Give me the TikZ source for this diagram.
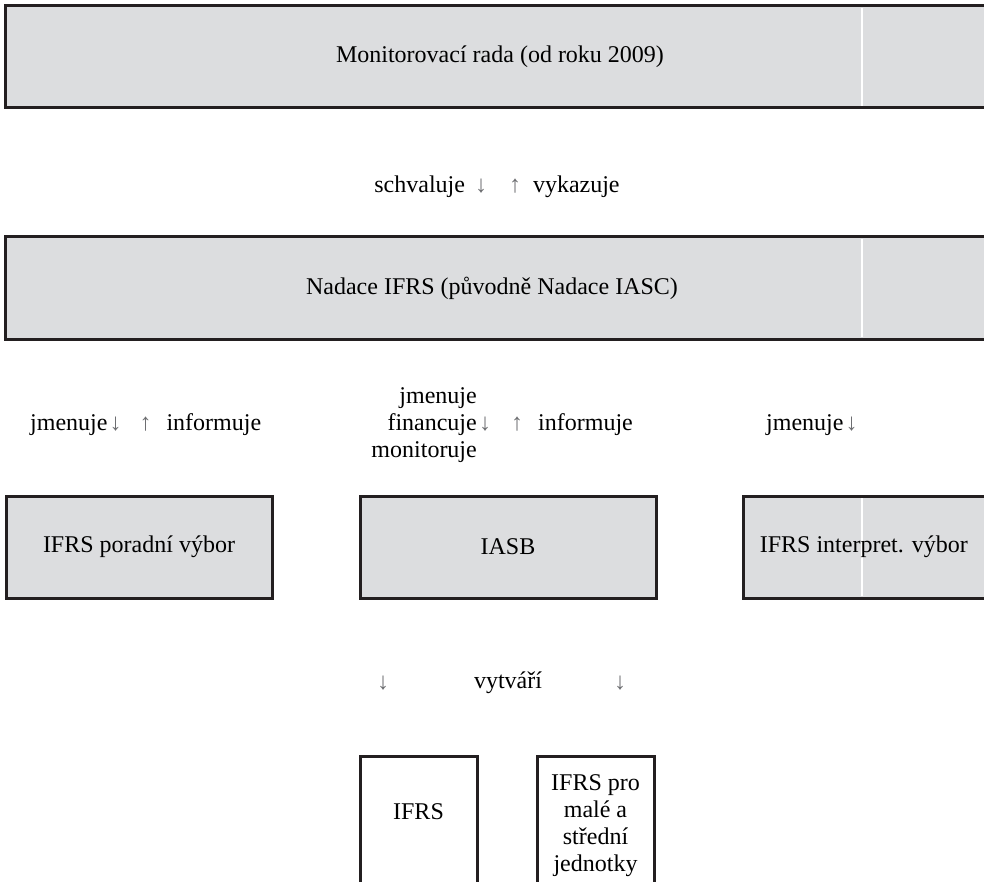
\documentclass[tikz,border=0pt]{standalone}
\usepackage{fontspec}
\setmainfont{Liberation Serif}
\definecolor{boxfill}{HTML}{DCDDDF}
\definecolor{boxline}{HTML}{231F20}
\definecolor{arrgray}{HTML}{6D6E71}
\newcommand{\dn}{{\color{arrgray}↓}}
\newcommand{\up}{{\color{arrgray}↑}}
\begin{document}
\begin{tikzpicture}[x=1pt,y=-1pt,
  txt/.style={font=\fontsize{24}{27}\selectfont, inner sep=0pt, text=black},
  graybox/.style={draw=boxline, line width=3pt, fill=boxfill},
  whitebox/.style={draw=boxline, line width=3pt, fill=white},
  sep/.style={draw=white, line width=1.2pt}]
\useasboundingbox (0,0) rectangle (984,882);
\clip (0,0) rectangle (984,882);
% row 1
\draw[graybox] (5,6) rectangle (1000,108);
\draw[sep] (862,8) -- (862,106);
\node[txt] (mon) at (500,57) {Monitorovací rada (od roku 2009)};
\node[txt] (schv) at (497,187) {schvaluje\hspace{10pt}\dn\hspace{22pt}\up\hspace{12pt}vykazuje};
% row 2
\draw[graybox] (5,237) rectangle (1000,339);
\draw[sep] (862,239) -- (862,337);
\node[txt] (nad) at (492,288) {Nadace IFRS (původně Nadace IASC)};
% labels
\node[txt, anchor=west] (l1) at (30,425) {jmenuje\hspace{2pt}\dn\hspace{18pt}\up\hspace{15pt}informuje};
\node[txt, align=right, anchor=east] (l2a) at (477,425) {jmenuje\\financuje\\monitoruje};
\node[txt, anchor=west] (l2b) at (479,425) {\dn\hspace{20pt}\up\hspace{15pt}informuje};
\node[txt, anchor=west] (l3) at (766,425) {jmenuje\hspace{2pt}\dn};
% row 3
\draw[graybox] (6,496) rectangle (272,598);
\node[txt] (por) at (139,547) {IFRS poradní výbor};
\draw[graybox] (360,496) rectangle (656,598);
\node[txt] (iasb) at (508,547) {IASB};
\draw[graybox] (743,496) rectangle (1000,598);
\draw[sep] (862,498) -- (862,596);
\node[txt, anchor=east] (int) at (968,547) {IFRS interpret. výbor};
% creates
\node[txt] (a1) at (383,683) {\dn};
\node[txt] (vyt) at (508,683) {vytváří};
\node[txt] (a2) at (620,683) {\dn};
% row 4
\draw[whitebox] (360,756) rectangle (477,900);
\node[txt] (ifrs) at (418.5,812) {IFRS};
\draw[whitebox] (537,756) rectangle (654,900);
\node[txt, align=center] (sme) at (595.5,826) {IFRS pro\\malé a\\střední\\jednotky};
\end{tikzpicture}
\end{document}
